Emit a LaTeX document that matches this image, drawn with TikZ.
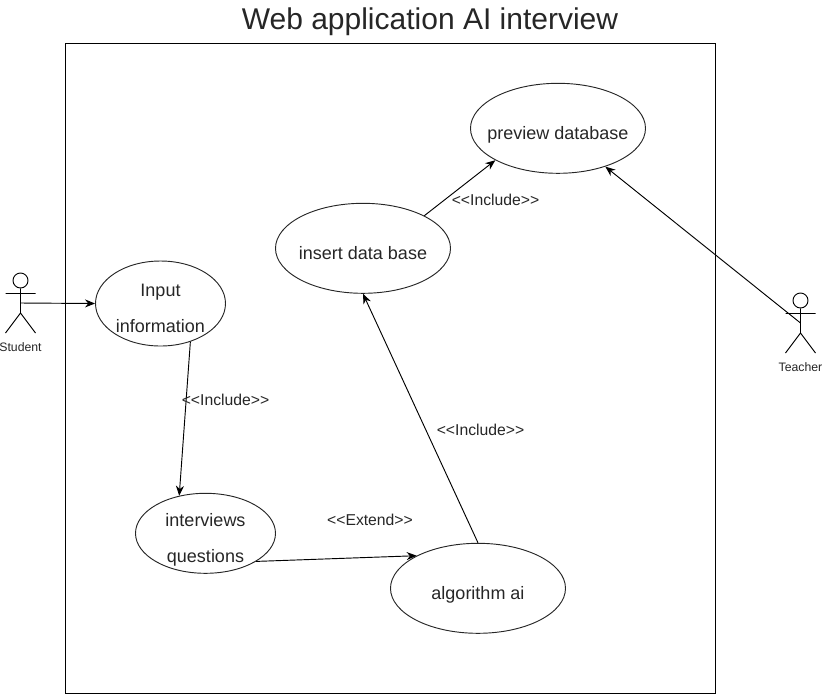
\documentclass[tikz,border=0pt]{standalone}
\usepackage{fontspec}
\setmainfont{Liberation Sans}
\usetikzlibrary{shapes.geometric,arrows.meta}
\tikzset{x=0.75pt,y=-0.75pt,
 uc/.style={draw=black!85,ellipse,minimum width=131.25pt,minimum height=67.5pt,inner sep=0pt,line width=0.7pt},
 uctext/.style={font=\fontsize{13.5}{27}\selectfont,align=center,inner sep=0pt,text=black!85,text height=9.6pt,text depth=2.9pt,yshift=-4.9pt},
 uctwo/.style={font=\fontsize{13.5}{27}\selectfont,align=center,inner sep=0pt,text=black!85,text depth=2.9pt,yshift=-5.2pt},
 lab/.style={font=\fontsize{11.8}{13}\selectfont,inner sep=0pt,text=black!85},
 act/.style={font=\fontsize{9.2}{10}\selectfont,inner sep=0pt,text=black!85},
 arr/.style={-{Stealth[length=7.5pt,width=6pt]},line width=0.7pt},
 fig/.style={line width=0.7pt},
 headc/.style={draw,circle,minimum size=11.25pt,inner sep=0pt,line width=0.7pt}}
\begin{document}
\begin{tikzpicture}
\useasboundingbox (0,0) rectangle (822,694);
\draw[line width=0.7pt] (65.5,43.5) rectangle (715.5,693.5);
\node[inner sep=0pt,font=\fontsize{22.5}{26}\selectfont,text=black!85] (title) at (430,22) {Web application AI interview};
\node[uc,label={[uctext]center:preview database}] (db) at (558,128.3) {};
\node[uc,label={[uctext]center:insert data base}] (ins) at (363,248.3) {};
\node[uc,minimum width=97.5pt,minimum height=63.75pt,label={[uctwo]center:Input\\information}] (inp) at (160.5,303.5) {};
\node[uc,minimum width=105pt,minimum height=60pt,label={[uctwo]center:interviews\\questions}] (iq) at (205.5,533.3) {};
\node[uc,label={[uctext]center:algorithm ai}] (alg) at (478,588.3) {};
% student
\node[headc] (shead) at (20.5,280.5) {};
\coordinate (shand) at (20.5,303);
\coordinate (ship) at (20.5,313);
\draw[fig] (shead.south) -- (ship) (5.5,293.5) -- (35.5,293.5) (ship) -- (5.5,333) (ship) -- (35.5,333);
\node[act] (slab) at (20.5,347) {Student};
% teacher
\node[headc] (thead) at (800.5,300.5) {};
\coordinate (thand) at (800.5,323);
\coordinate (thip) at (800.5,333);
\draw[fig] (thead.south) -- (thip) (785.5,313.5) -- (815.5,313.5) (thip) -- (785.5,353) (thip) -- (815.5,353);
\node[act] (tlab) at (800.5,367) {Teacher};
\draw[arr] (shand) -- (inp.west);
\draw[arr] (thand) -- (db.-39);
\draw[arr] (inp.-52) -- (iq.125);
\draw[arr] (iq.-29) -- (alg.152.5);
\draw[arr] (alg.north) -- (ins.south);
\draw[arr] (ins.28) -- (db.207);
\node[lab] (l1) at (225.5,400) {<{}<Include>{}>};
\node[lab] (l2) at (370,520) {<{}<Extend>{}>};
\node[lab] (l3) at (480.5,430) {<{}<Include>{}>};
\node[lab] (l4) at (495.5,200) {<{}<Include>{}>};
\end{tikzpicture}
\end{document}
